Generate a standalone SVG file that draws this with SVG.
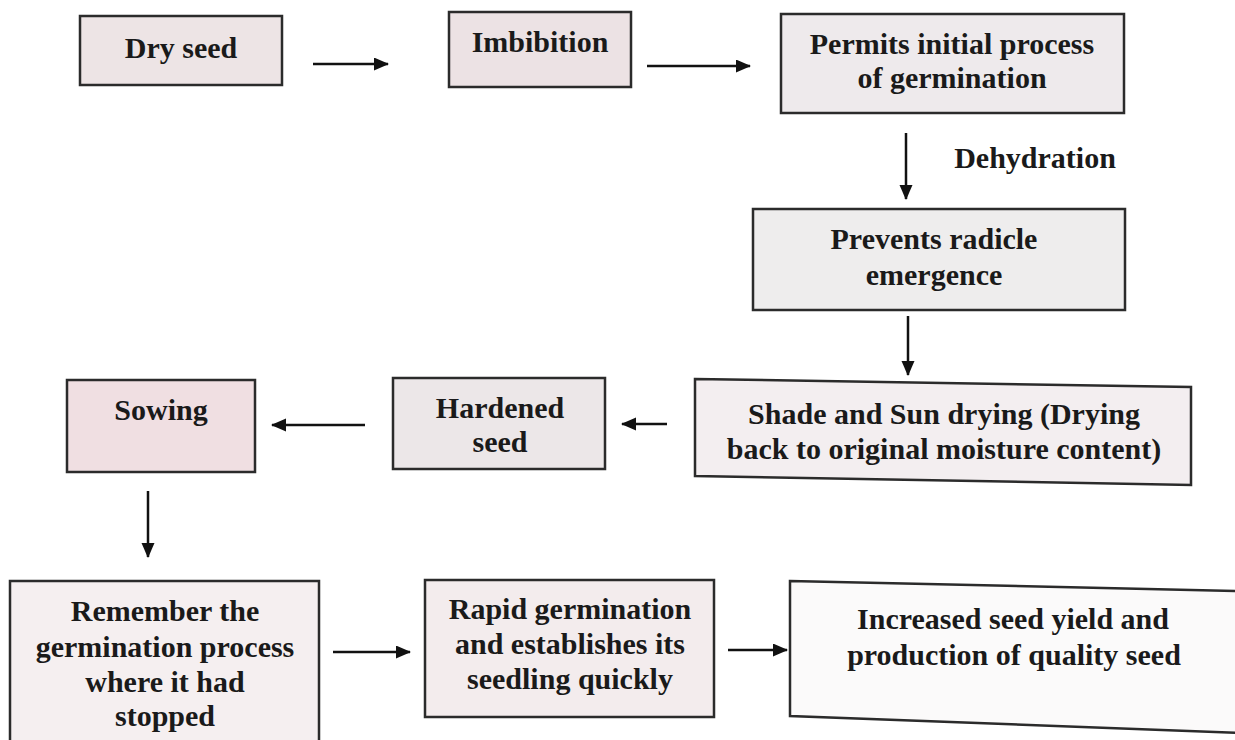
<svg xmlns="http://www.w3.org/2000/svg" width="1235" height="740" viewBox="0 0 1235 740">
<style>
.box{stroke:#2b2b2b;stroke-width:2.5}
.t{font-family:"Liberation Serif","Times New Roman",serif;font-weight:bold;font-size:30px;fill:#1a1a1a;text-anchor:middle}
.c{stroke:#111;stroke-width:2.5;fill:none}
</style>
<defs>
<marker id="ah" markerUnits="userSpaceOnUse" markerWidth="16" markerHeight="14" refX="14" refY="6.5" orient="auto">
<path d="M0,0 L15,6.5 L0,13 z" fill="#111"/>
</marker>
</defs>
<rect width="1235" height="740" fill="#ffffff"/>

<g id="dry-seed">
<rect class="box" x="80" y="16" width="202" height="69" fill="#ede4e5"/>
<text class="t" x="181" y="58">Dry seed</text>
</g>
<g id="imbibition">
<rect class="box" x="449" y="12" width="182" height="75" fill="#ece2e4"/>
<text class="t" x="540" y="52">Imbibition</text>
</g>
<g id="permits">
<rect class="box" x="781" y="14" width="343" height="99" fill="#eeeaec"/>
<text class="t" x="952" y="54">Permits initial process</text>
<text class="t" x="952" y="88">of germination</text>
</g>
<g id="dehydration-label">
<text class="t" x="1035" y="168">Dehydration</text>
</g>
<g id="prevents">
<rect class="box" x="753" y="209" width="372" height="101" fill="#eeeded"/>
<text class="t" x="934" y="249">Prevents radicle</text>
<text class="t" x="934" y="285">emergence</text>
</g>
<g id="shade-sun">
<polygon class="box" points="695,379 1191,387 1191,485 695,476" fill="#f3eef0"/>
<text class="t" x="944" y="424">Shade and Sun drying (Drying</text>
<text class="t" x="944" y="459">back to original moisture content)</text>
</g>
<g id="hardened">
<rect class="box" x="393" y="378" width="212" height="91" fill="#ece7e8"/>
<text class="t" x="500" y="418">Hardened</text>
<text class="t" x="500" y="452">seed</text>
</g>
<g id="sowing">
<rect class="box" x="67" y="380" width="188" height="92" fill="#f0dfe2"/>
<text class="t" x="161" y="420">Sowing</text>
</g>
<g id="remember">
<rect class="box" x="10" y="581" width="309" height="170" fill="#f5eff0"/>
<text class="t" x="165" y="621">Remember the</text>
<text class="t" x="165" y="657">germination process</text>
<text class="t" x="165" y="692">where it had</text>
<text class="t" x="165" y="726">stopped</text>
</g>
<g id="rapid">
<rect class="box" x="425" y="580" width="289" height="137" fill="#f3eced"/>
<text class="t" x="570" y="619">Rapid germination</text>
<text class="t" x="570" y="654">and establishes its</text>
<text class="t" x="570" y="689">seedling quickly</text>
</g>
<g id="increased">
<polygon class="box" points="790,581 1240,591 1240,733 790,716" fill="#fbfafa"/>
<text class="t" x="1013" y="629">Increased seed yield and</text>
<text class="t" x="1014" y="665">production of quality seed</text>
</g>

<g id="connectors">
<line class="c" x1="313" y1="64" x2="388" y2="64" marker-end="url(#ah)"/>
<line class="c" x1="647" y1="66" x2="750" y2="66" marker-end="url(#ah)"/>
<line class="c" x1="906" y1="133" x2="906" y2="199" marker-end="url(#ah)"/>
<line class="c" x1="908" y1="316" x2="908" y2="375" marker-end="url(#ah)"/>
<line class="c" x1="667" y1="424" x2="622" y2="424" marker-end="url(#ah)"/>
<line class="c" x1="365" y1="425" x2="272" y2="425" marker-end="url(#ah)"/>
<line class="c" x1="148" y1="491" x2="148" y2="557" marker-end="url(#ah)"/>
<line class="c" x1="333" y1="652" x2="410" y2="652" marker-end="url(#ah)"/>
<line class="c" x1="728" y1="650" x2="787" y2="650" marker-end="url(#ah)"/>
</g>
</svg>
